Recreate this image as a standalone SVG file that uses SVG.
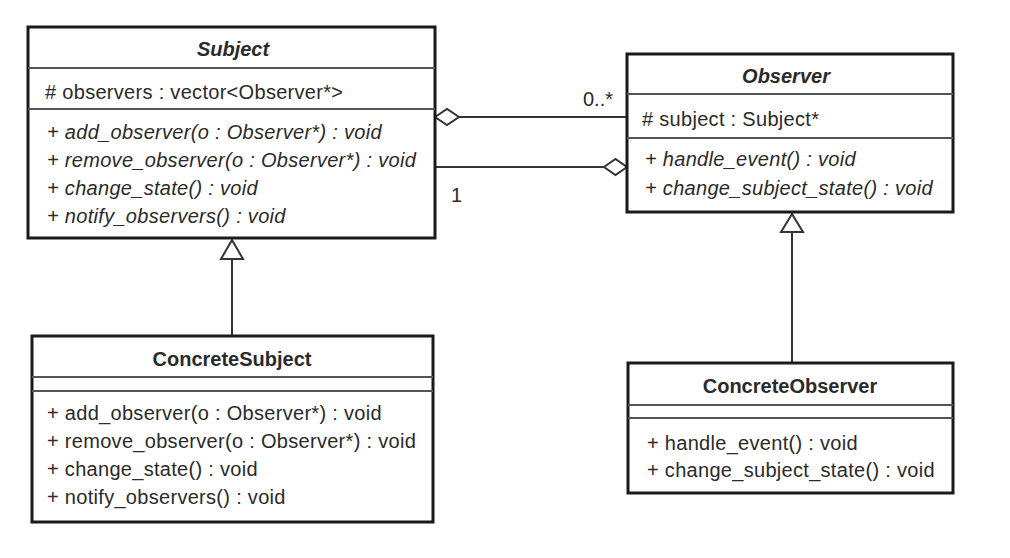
<svg xmlns="http://www.w3.org/2000/svg" width="1010" height="558" viewBox="0 0 1010 558">
  <style>
    .box { fill: #ffffff; stroke: #1a1a1a; stroke-width: 3; }
    .div { stroke: #555555; stroke-width: 2; fill: none; }
    .t { font-family: "Liberation Sans", Arial, sans-serif; font-size: 20px; fill: #2a2a2a; }
    .m { letter-spacing: 0.3px; }
    .title { font-weight: bold; text-anchor: middle; }
    .it { font-style: italic; }
    .line { stroke: #333333; stroke-width: 2; fill: none; }
    .head { stroke: #333333; stroke-width: 2; fill: #ffffff; }
  </style>
  <rect x="0" y="0" width="1010" height="558" fill="#ffffff"/>

  <g id="connectors">
    <!-- aggregation: Subject holds observers -->
    <line class="line" x1="459" y1="117" x2="627" y2="117"/>
    <polygon class="head" points="435,117 447,109 459,117 447,125"/>
    <text class="t" x="583" y="106">0..*</text>
    <!-- aggregation: Observer holds subject -->
    <line class="line" x1="435" y1="167" x2="604" y2="167"/>
    <polygon class="head" points="604,167 615.5,159 627,167 615.5,175"/>
    <text class="t" x="451" y="202">1</text>
    <!-- generalization ConcreteSubject -> Subject -->
    <line class="line" x1="232" y1="336" x2="232" y2="259"/>
    <polygon class="head" points="232,240 221,259 243,259"/>
    <!-- generalization ConcreteObserver -> Observer -->
    <line class="line" x1="792" y1="363" x2="792" y2="232"/>
    <polygon class="head" points="792,214 781,232 803,232"/>
  </g>

  <g id="Subject">
    <rect class="box" x="28" y="27" width="407" height="211"/>
    <line class="div" x1="28" y1="68" x2="435" y2="68"/>
    <line class="div" x1="28" y1="109" x2="435" y2="109"/>
    <text class="t title it" x="233" y="56">Subject</text>
    <text class="t m" x="45" y="99"># observers : vector&lt;Observer*&gt;</text>
    <text class="t m it" x="47" y="139">+ add_observer(o : Observer*) : void</text>
    <text class="t m it" x="47" y="167">+ remove_observer(o : Observer*) : void</text>
    <text class="t m it" x="47" y="195">+ change_state() : void</text>
    <text class="t m it" x="47" y="223">+ notify_observers() : void</text>
  </g>

  <g id="Observer">
    <rect class="box" x="627" y="54" width="326" height="158"/>
    <line class="div" x1="627" y1="94" x2="953" y2="94"/>
    <line class="div" x1="627" y1="138" x2="953" y2="138"/>
    <text class="t title it" x="786" y="83">Observer</text>
    <text class="t m" x="642" y="126"># subject : Subject*</text>
    <text class="t m it" x="645" y="166">+ handle_event() : void</text>
    <text class="t m it" x="645" y="195">+ change_subject_state() : void</text>
  </g>

  <g id="ConcreteSubject">
    <rect class="box" x="32" y="336" width="401" height="186"/>
    <line class="div" x1="32" y1="377" x2="433" y2="377"/>
    <line class="div" x1="32" y1="391" x2="433" y2="391"/>
    <text class="t title" x="232" y="366">ConcreteSubject</text>
    <text class="t m" x="47" y="420">+ add_observer(o : Observer*) : void</text>
    <text class="t m" x="47" y="448">+ remove_observer(o : Observer*) : void</text>
    <text class="t m" x="47" y="476">+ change_state() : void</text>
    <text class="t m" x="47" y="504">+ notify_observers() : void</text>
  </g>

  <g id="ConcreteObserver">
    <rect class="box" x="628" y="363" width="325" height="130"/>
    <line class="div" x1="628" y1="405" x2="953" y2="405"/>
    <line class="div" x1="628" y1="418" x2="953" y2="418"/>
    <text class="t title" x="790" y="393">ConcreteObserver</text>
    <text class="t m" x="647" y="450">+ handle_event() : void</text>
    <text class="t m" x="647" y="477">+ change_subject_state() : void</text>
  </g>
</svg>
